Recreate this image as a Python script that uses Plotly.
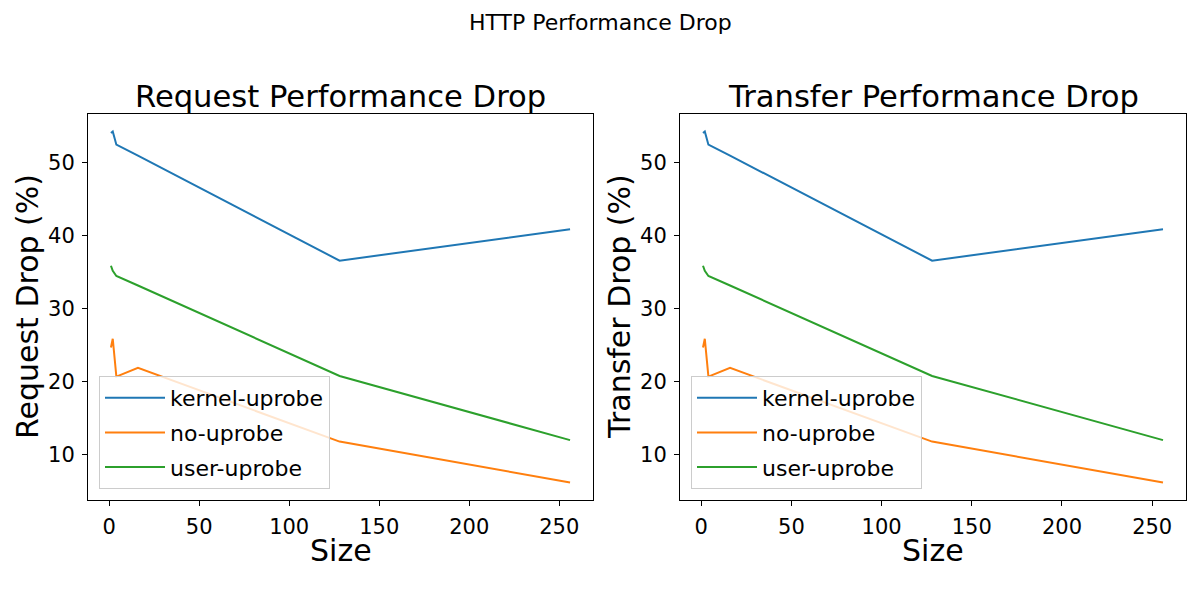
import plotly.graph_objects as go

sizes = [1, 2, 4, 16, 128, 256]
kernel_uprobe = [54.1, 54.3, 52.5, 51.0, 36.6, 40.9]
no_uprobe = [24.7, 25.9, 20.7, 21.9, 11.8, 6.2]
user_uprobe = [35.9, 35.2, 34.5, 33.2, 20.8, 12.0]

series = [("kernel-uprobe", kernel_uprobe, "#1f77b4"),
          ("no-uprobe", no_uprobe, "#ff7f0e"),
          ("user-uprobe", user_uprobe, "#2ca02c")]

FONT = "DejaVu Sans"
W, H = 1200, 600
ML, MR, MT, MB = 88, 14, 114, 100
PW = W - ML - MR
PH = H - MT - MB
x1_end = (593 - ML) / PW
x2_start = (680 - ML) / PW

fig = go.Figure()
for i, (xa, ya, leg) in enumerate([("x", "y", "legend"), ("x2", "y2", "legend2")]):
    for name, vals, col in series:
        fig.add_trace(go.Scatter(x=sizes, y=vals, mode="lines", name=name,
                                 line=dict(color=col, width=2),
                                 legendgroup=f"{leg}-{name}",
                                 xaxis=xa, yaxis=ya, legend=leg))

ax_common = dict(showline=True, linecolor="black", linewidth=1, mirror=True,
                 ticks="outside", ticklen=5, tickwidth=1, tickcolor="black",
                 showgrid=False, zeroline=False,
                 tickfont=dict(family=FONT, size=21, color="black"),
                 ticklabelstandoff=3)
xr = [-11.75, 268.75]
yr = [3.795, 56.705]
leg_common = dict(xanchor="left", yanchor="bottom", y=(500 - 489) / PH,
                  bgcolor="rgba(255,255,255,0.8)", bordercolor="#cccccc", borderwidth=1,
                  itemwidth=60, tracegroupgap=3,
                  font=dict(family=FONT, size=22, color="black"))
fig.update_layout(
    width=W, height=H,
    margin=dict(l=ML, r=MR, t=MT, b=MB),
    plot_bgcolor="white", paper_bgcolor="white",
    font=dict(family=FONT, color="black"),
    xaxis=dict(domain=[0, x1_end], range=xr, tickvals=[0, 50, 100, 150, 200, 250], **ax_common),
    yaxis=dict(domain=[0, 1], range=yr, tickvals=[10, 20, 30, 40, 50], **ax_common),
    xaxis2=dict(domain=[x2_start, 1], range=xr, tickvals=[0, 50, 100, 150, 200, 250], anchor="y2", **ax_common),
    yaxis2=dict(domain=[0, 1], range=yr, tickvals=[10, 20, 30, 40, 50], anchor="x2", **ax_common),
    legend=dict(x=(99 - ML) / PW, **leg_common),
    legend2=dict(x=(691 - ML) / PW, **leg_common),
    showlegend=True,
)

def px_x(p):
    return (p - ML) / PW

def px_y(p):
    return (H - MB - p) / PH

annos = [
    dict(text="HTTP Performance Drop", x=W / 2, y=22, size=22),
    dict(text="Request Performance Drop", x=(88 + 593) / 2, y=96, size=30.6),
    dict(text="Transfer Performance Drop", x=(680 + 1186) / 2, y=96, size=30.6),
    dict(text="Size", x=(88 + 593) / 2, y=550, size=30),
    dict(text="Size", x=(680 + 1186) / 2, y=550, size=30),
]
for a in annos:
    fig.add_annotation(text=a["text"], x=px_x(a["x"]), y=px_y(a["y"]), xref="paper", yref="paper",
                       showarrow=False, xanchor="center", yanchor="middle",
                       font=dict(family=FONT, size=a["size"], color="black"))
for label, xc in [("Request Drop (%)", 27), ("Transfer Drop (%)", 619)]:
    fig.add_annotation(text=label, x=px_x(xc), y=px_y(307), xref="paper", yref="paper",
                       showarrow=False, textangle=-90, xanchor="center", yanchor="middle",
                       font=dict(family=FONT, size=30, color="black"))

fig.write_html("out.html",
               config={"displayModeBar": False},
               post_script="document.body.style.margin='0';document.body.style.overflow='hidden';")
